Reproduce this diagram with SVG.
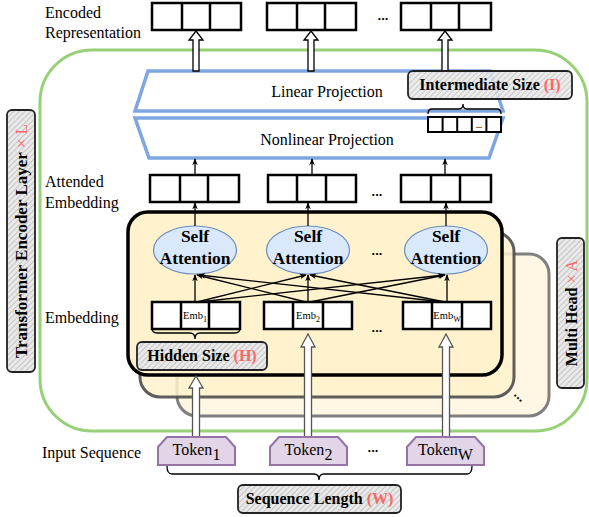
<svg xmlns="http://www.w3.org/2000/svg" width="589" height="517" viewBox="0 0 589 517">
<defs>
<marker id="ah" viewBox="0 0 10 10" refX="9" refY="5" markerWidth="7" markerHeight="7" orient="auto-start-reverse" markerUnits="userSpaceOnUse">
<path d="M0,1 L10,5 L0,9 L3,5 Z" fill="#000"/>
</marker>
<pattern id="hatch" patternUnits="userSpaceOnUse" width="4" height="4" patternTransform="rotate(45)">
<rect width="4" height="4" fill="#e9e9e9"/>
<line x1="0" y1="0" x2="0" y2="4" stroke="#9a9a9a" stroke-width="0.9"/>
</pattern>
<style>
.lbl{font-family:"Liberation Serif","Times New Roman",serif;font-size:16px;fill:#000}
.bold{font-family:"Liberation Serif","Times New Roman",serif;font-weight:bold;fill:#000}
.red{fill:#ff6666}
.cell{fill:#fff;stroke:#000;stroke-width:2.5}
.thin{stroke:#000;stroke-width:1.3;fill:none;marker-end:url(#ah)}
.hollow{fill:#fff;stroke:#000;stroke-width:1.3}
.hollowg{fill:#fff;stroke:#555;stroke-width:1.3}
.tag{fill:url(#hatch);stroke:#222;stroke-width:1.8}
.tok{fill:#e1d5e7;stroke:#9673a6;stroke-width:2}
.ell{fill:#dae8fc;stroke:#6c8ebf;stroke-width:1.2}
.proj{fill:#fff;stroke:#7ea6e0;stroke-width:3.5}
.brace{fill:none;stroke:#000;stroke-width:1.3}
.dots{font-family:"Liberation Sans",Arial,sans-serif;font-weight:bold;font-size:13px;fill:#000}
</style>
</defs>

<!-- outer transformer layer -->
<g id="encoder-layer">
<rect x="40" y="50" width="547" height="381" rx="52" fill="none" stroke="#97d077" stroke-width="3"/>
</g>

<!-- projections -->
<g id="linear-projection">
<path class="proj" d="M148,71 L490,71 L503,111 L135,111 Z"/>
<text class="lbl" x="327" y="97" text-anchor="middle">Linear Projection</text>
</g>
<g id="nonlinear-projection">
<path class="proj" d="M135,118 L503,118 L489,158 L149,158 Z"/>
<text class="lbl" x="327" y="145" text-anchor="middle">Nonlinear Projection</text>
</g>

<!-- multi-head stack -->
<g id="head-3">
<rect x="177" y="254" width="372" height="162" rx="20" fill="#fff7e3" stroke="#7f7f7f" stroke-width="3"/>
</g>
<g id="head-2">
<rect x="140" y="232" width="374" height="165" rx="20" fill="#fff2cc" fill-opacity="0.85" stroke="#4d4d4d" stroke-width="3" stroke-opacity="0.9"/>
</g>
<g id="head-1">
<rect x="128" y="212" width="374" height="163" rx="20" fill="#fff2cc" stroke="#000" stroke-width="3.5"/>
</g>
<text class="dots" x="520" y="400" text-anchor="middle" transform="rotate(45 520 396)">...</text>

<!-- left labels -->
<g id="row-labels">
<text class="lbl" x="45" y="18">Encoded</text>
<text class="lbl" x="45" y="38">Representation</text>
<text class="lbl" x="45" y="187">Attended</text>
<text class="lbl" x="45" y="208">Embedding</text>
<text class="lbl" x="45" y="323">Embedding</text>
<text class="lbl" x="42" y="458">Input Sequence</text>
</g>

<!-- encoded representation -->
<g id="encoded-1">
<rect class="cell" x="152" y="3" width="89" height="27"/>
<line class="cell" x1="182" y1="3" x2="182" y2="30"/><line class="cell" x1="210" y1="3" x2="210" y2="30"/>
</g>
<g id="encoded-2">
<rect class="cell" x="267" y="3" width="89" height="27"/>
<line class="cell" x1="297" y1="3" x2="297" y2="30"/><line class="cell" x1="325" y1="3" x2="325" y2="30"/>
</g>
<g id="encoded-w">
<rect class="cell" x="401" y="3" width="90" height="27"/>
<line class="cell" x1="431" y1="3" x2="431" y2="30"/><line class="cell" x1="459" y1="3" x2="459" y2="30"/>
</g>
<text class="dots" x="383" y="20" text-anchor="middle">...</text>

<!-- attended embedding -->
<g id="attended-1">
<rect class="cell" x="150" y="175" width="89" height="27"/>
<line class="cell" x1="180" y1="175" x2="180" y2="202"/><line class="cell" x1="208" y1="175" x2="208" y2="202"/>
</g>
<g id="attended-2">
<rect class="cell" x="268" y="175" width="88" height="27"/>
<line class="cell" x1="297" y1="175" x2="297" y2="202"/><line class="cell" x1="326" y1="175" x2="326" y2="202"/>
</g>
<g id="attended-w">
<rect class="cell" x="401" y="175" width="90" height="27"/>
<line class="cell" x1="431" y1="175" x2="431" y2="202"/><line class="cell" x1="460" y1="175" x2="460" y2="202"/>
</g>
<text class="dots" x="377" y="196" text-anchor="middle">...</text>

<!-- self attention -->
<g id="self-attention-1">
<ellipse class="ell" cx="195" cy="250" rx="41.5" ry="24"/>
<text class="bold" font-size="17.5" x="195" y="242" text-anchor="middle">Self</text>
<text class="bold" font-size="17.5" x="195" y="264" text-anchor="middle">Attention</text>
</g>
<g id="self-attention-2">
<ellipse class="ell" cx="308" cy="250" rx="41.5" ry="24"/>
<text class="bold" font-size="17.5" x="308" y="242" text-anchor="middle">Self</text>
<text class="bold" font-size="17.5" x="308" y="264" text-anchor="middle">Attention</text>
</g>
<g id="self-attention-w">
<ellipse class="ell" cx="446" cy="250" rx="41.5" ry="24"/>
<text class="bold" font-size="17.5" x="446" y="242" text-anchor="middle">Self</text>
<text class="bold" font-size="17.5" x="446" y="264" text-anchor="middle">Attention</text>
</g>
<text class="dots" x="377" y="255" text-anchor="middle">...</text>

<!-- embeddings -->
<g id="embedding-1">
<rect class="cell" x="152" y="302" width="88" height="27"/>
<line class="cell" x1="181" y1="302" x2="181" y2="329"/><line class="cell" x1="209" y1="302" x2="209" y2="329"/>
<text font-family="Liberation Serif,serif" font-size="10.5" x="195" y="319" text-anchor="middle">Emb<tspan font-size="8" dy="3">1</tspan></text>
</g>
<g id="embedding-2">
<rect class="cell" x="264" y="302" width="88" height="27"/>
<line class="cell" x1="293" y1="302" x2="293" y2="329"/><line class="cell" x1="323" y1="302" x2="323" y2="329"/>
<text font-family="Liberation Serif,serif" font-size="10.5" x="308" y="319" text-anchor="middle">Emb<tspan font-size="8" dy="3">2</tspan></text>
</g>
<g id="embedding-w">
<rect class="cell" x="403" y="302" width="88" height="27"/>
<line class="cell" x1="432" y1="302" x2="432" y2="329"/><line class="cell" x1="462" y1="302" x2="462" y2="329"/>
<text font-family="Liberation Serif,serif" font-size="10.5" x="447" y="319" text-anchor="middle">Emb<tspan font-size="8" dy="3">W</tspan></text>
</g>
<text class="dots" x="377" y="332" text-anchor="middle">...</text>

<!-- connectors -->
<g id="connectors">
<path class="hollow" d="M196,31 L203,40 L199,40 L199,71 L193,71 L193,40 L189,40 Z"/>
<path class="hollow" d="M311,31 L318,40 L314,40 L314,71 L308,71 L308,40 L304,40 Z"/>
<path class="hollow" d="M445,31 L452,40 L448,40 L448,71 L442,71 L442,40 L438,40 Z"/>
<line class="thin" x1="195" y1="175" x2="195" y2="159"/>
<line class="thin" x1="312" y1="175" x2="312" y2="159"/>
<line class="thin" x1="445" y1="175" x2="445" y2="159"/>
<line class="thin" x1="195" y1="226" x2="195" y2="203"/>
<line class="thin" x1="308" y1="226" x2="308" y2="203"/>
<line class="thin" x1="446" y1="226" x2="446" y2="203"/>
<line class="thin" x1="195" y1="302" x2="195" y2="275"/>
<line class="thin" x1="197" y1="302" x2="306" y2="275"/>
<line class="thin" x1="199" y1="302" x2="444" y2="275"/>
<line class="thin" x1="306" y1="302" x2="197" y2="275"/>
<line class="thin" x1="308" y1="302" x2="308" y2="275"/>
<line class="thin" x1="310" y1="302" x2="445" y2="275"/>
<line class="thin" x1="444" y1="302" x2="199" y2="275"/>
<line class="thin" x1="445" y1="302" x2="310" y2="275"/>
<line class="thin" x1="447" y1="302" x2="447" y2="275"/>
<path class="hollowg" d="M196,376 L203,388 L199.5,388 L199.5,437 L192.5,437 L192.5,388 L189,388 Z"/>
<path class="hollowg" d="M308,334 L315,347 L311.5,347 L311.5,437 L304.5,437 L304.5,347 L301,347 Z"/>
<path class="hollowg" d="M446,334 L453,347 L449.5,347 L449.5,437 L442.5,437 L442.5,347 L439,347 Z"/>
<path class="brace" d="M152,328 Q152,333 157,333 L190,333 Q195,333 195,339 Q195,333 200,333 L235,333 Q240,333 240,328"/>
<path class="brace" d="M428,114 Q428,109 432,109 L459,109 Q463,109 463,104 Q463,109 467,109 L497,109 Q501,109 501,114"/>
<path class="brace" d="M167,466 Q167,474 172,474 L314,474 Q319,474 319,480 Q319,474 324,474 L467,474 Q472,474 472,466"/>
</g>

<!-- intermediate size -->
<g id="intermediate-size">
<rect class="tag" x="408" y="71" width="164" height="28" rx="5" fill-opacity="0.9"/>
<text class="bold" font-size="16" x="490" y="90" text-anchor="middle">Intermediate Size <tspan class="red">(I)</tspan></text>
</g>
<g id="intermediate-cells">
<rect x="428" y="117" width="73" height="15" fill="#fff" stroke="#000" stroke-width="2"/>
<line x1="442.6" y1="117" x2="442.6" y2="132" stroke="#000" stroke-width="2"/>
<line x1="457.2" y1="117" x2="457.2" y2="132" stroke="#000" stroke-width="2"/>
<line x1="471.8" y1="117" x2="471.8" y2="132" stroke="#000" stroke-width="2"/>
<line x1="486.4" y1="117" x2="486.4" y2="132" stroke="#000" stroke-width="2"/>
<text font-family="Liberation Sans,sans-serif" font-size="7" font-weight="bold" x="479" y="128" text-anchor="middle">...</text>
</g>

<!-- hidden size -->
<g id="hidden-size">
<rect class="tag" x="137" y="342" width="130" height="28" rx="5"/>
<text class="bold" font-size="16" x="202" y="361" text-anchor="middle">Hidden Size <tspan class="red">(H)</tspan></text>
</g>

<!-- tokens -->
<g id="token-1">
<path class="tok" d="M158,465 L158,447 L167,437 L226,437 L235,447 L235,465 Z"/>
<text class="lbl" x="196.5" y="455" text-anchor="middle">Token<tspan dy="5">1</tspan></text>
</g>
<g id="token-2">
<path class="tok" d="M270,465 L270,447 L279,437 L338,437 L347,447 L347,465 Z"/>
<text class="lbl" x="308.5" y="455" text-anchor="middle">Token<tspan dy="5">2</tspan></text>
</g>
<g id="token-w">
<path class="tok" d="M407,465 L407,447 L416,437 L475,437 L484,447 L484,465 Z"/>
<text class="lbl" x="445.5" y="455" text-anchor="middle">Token<tspan dy="5">W</tspan></text>
</g>
<text class="dots" x="373" y="452" text-anchor="middle">...</text>

<!-- sequence length -->
<g id="sequence-length">
<rect class="tag" x="238" y="485" width="163" height="28" rx="5"/>
<text class="bold" font-size="16" x="319.5" y="504" text-anchor="middle">Sequence Length <tspan class="red">(W)</tspan></text>
</g>

<!-- side labels -->
<g id="transformer-label">
<rect class="tag" x="7" y="110" width="28" height="262" rx="5"/>
<text class="bold" font-size="17" transform="translate(21,241) rotate(-90)" x="0" y="6" text-anchor="middle">Transformer Encoder Layer <tspan class="red" font-weight="normal">× L</tspan></text>
</g>
<g id="multihead-label">
<rect class="tag" x="557" y="238" width="27" height="150" rx="5"/>
<text class="bold" font-size="16" transform="translate(570.5,313) rotate(-90)" x="0" y="6" text-anchor="middle">Multi Head <tspan class="red" font-weight="normal">× A</tspan></text>
</g>
</svg>
